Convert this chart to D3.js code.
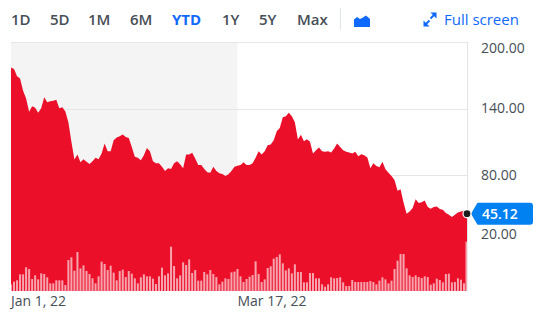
<!DOCTYPE html>
<html>
<head>
<meta charset="utf-8">
<script src="https://cdn.jsdelivr.net/npm/d3@7"></script>
<style>
  html, body { margin: 0; padding: 0; background: #fff; }
  svg { display: block; font-family: "Open Sans", "Noto Sans", sans-serif; }
</style>
</head>
<body>
<svg id="chart" width="537" height="313"></svg>
<script>
// ---------- data ----------
const startDate = "2022-01-01";
const prices = [
  177, 175.6, 169, 167, 156, 149, 137, 142, 140.6, 136.2,
  140.3, 150.1, 145.6, 146.5, 147, 147.8, 140.3, 141.2, 137.3, 127.7,
  110, 94, 98.5, 91.4, 94.1, 91.9, 89.9, 92.5, 95.5, 94.3,
  99.4, 108.4, 101.5, 101.5, 111.3, 113.8, 115, 116.5, 114.3, 113.4,
  105.3, 96.4, 95.5, 93.4, 97.9, 104.4, 101.5, 92.5, 90.5, 90.5,
  87.4, 83.6, 86.0, 85.4, 90.5, 92.5, 89.6, 86.0, 98.5, 98.5,
  100.0, 95.0, 89.0, 89.0, 85.4, 82.4, 82.1, 87.4, 83.6, 81.5,
  80.9, 79.1, 80.6, 83.6, 87.4, 88.3, 89, 91.4, 89.0, 89.0,
  90.5, 95.5, 101.5, 98.5, 101.5, 106.9, 107.5, 111.3, 119.4, 122.4,
  132.2, 133.1, 136.2, 133.1, 127.7, 112, 116.4, 110.4, 112.2, 110,
  99.4, 102.4, 104.8, 101.5, 100.9, 101.5, 100.3, 103.9, 108.4, 105.3,
  102.4, 100.9, 100.3, 99.4, 100.9, 97.0, 98.8, 97.9, 95.9, 86.0,
  90.5, 88.1, 86.9, 91.9, 85.1, 82.1, 79.1, 75.5, 65.7, 67.2,
  55, 45.1, 47.1, 50.2, 58.2, 54.7, 55.5, 57.0, 51.1, 49.6,
  51.1, 51.6, 49.3, 48.7, 45.7, 44.2, 42.1, 44.2, 46.2, 47.1,
  47.8, 45.12
];
const volumes = [
  20, 28, 32, 50, 50, 71, 66, 36, 47, 35,
  53, 51, 41, 23, 23, 32, 32, 32, 18, 93,
  101, 61, 117, 68, 77, 60, 51, 38, 23, 44,
  88, 81, 63, 76, 55, 32, 60, 64, 42, 60,
  52, 38, 23, 41, 50, 44, 44, 37, 21, 44,
  70, 47, 53, 133, 75, 38, 47, 86, 78, 95,
  54, 63, 31, 31, 57, 50, 63, 51, 42, 20,
  28, 38, 36, 56, 58, 66, 44, 27, 36, 43,
  48, 89, 51, 27, 35, 69, 74, 97, 102, 110,
  83, 62, 68, 53, 80, 57, 57, 26, 26, 54,
  54, 38, 38, 20, 13, 20, 41, 38, 39, 41,
  26, 15, 15, 33, 27, 27, 27, 27, 27, 30,
  27, 20, 31, 41, 35, 23, 31, 66, 91, 111,
  111, 68, 47, 42, 47, 42, 39, 44, 42, 19,
  23, 37, 33, 26, 51, 52, 26, 27, 38, 34,
  23, 148
];
const yTicks = [200, 140, 80, 20];
const xTickDates = ["2022-01-01", "2022-03-17"];
const xTickLabels = ["Jan 1, 22", "Mar 17, 22"];
const shadeEnd = "2022-03-17";
const ranges = ["1D", "5D", "1M", "6M", "YTD", "1Y", "5Y", "Max"];
const activeRange = "YTD";
const lastPrice = 45.12;

// ---------- setup ----------
const parse = d3.timeParse("%Y-%m-%d");
const t0 = parse(startDate);
const data = prices.map((p, i) => ({ date: d3.timeDay.offset(t0, i), price: p, volume: volumes[i] }));

const W = 537, H = 313;
const plot = { left: 11, right: 467, top: 42, bottom: 291 };
const RED = "#eb0f29", BLUE = "#0f69ff", TXT = "#464e56";

const svg = d3.select("#chart");

const x = d3.scaleTime()
  .domain(d3.extent(data, d => d.date))
  .range([plot.left, plot.right]);
const y = d3.scaleLinear()
  .domain([20, 200])
  .range([241.5, plot.top]);
const yv = d3.scaleLinear()
  .domain([0, 150])
  .range([plot.bottom, plot.bottom - 50]);

// ---------- toolbar ----------
const rangeX = [11, 50, 88, 130, 172, 222, 259, 297];
const tb = svg.append("g");
tb.selectAll("text").data(ranges).join("text")
  .attr("x", (d, i) => rangeX[i])
  .attr("y", 25)
  .attr("font-size", 15)
  .attr("font-weight", d => d === activeRange ? 700 : 600)
  .attr("fill", d => d === activeRange ? BLUE : TXT)
  .text(d => d);
tb.append("line").attr("x1", 340.5).attr("x2", 340.5).attr("y1", 8).attr("y2", 30)
  .attr("stroke", "#e0e4e9");
// area chart icon
tb.append("path")
  .attr("d", "M354,27 L354,19.5 L357,17 L360,19 L363,17.5 L366,15.5 L370,19 L370,27 Z")
  .attr("fill", BLUE);
// full screen icon
const fs = tb.append("g").attr("fill", BLUE).attr("stroke", BLUE);
fs.append("line").attr("x1", 425).attr("y1", 25).attr("x2", 429.5).attr("y2", 20.5).attr("stroke-width", 1.8);
fs.append("path").attr("d", "M423.5,26.5 L423.5,20.5 L429.5,26.5 Z").attr("stroke", "none");
fs.append("line").attr("x1", 435).attr("y1", 14).attr("x2", 430.5).attr("y2", 18.5).attr("stroke-width", 1.8);
fs.append("path").attr("d", "M436.5,12.5 L436.5,18.5 L430.5,12.5 Z").attr("stroke", "none");
tb.append("text").attr("x", 444).attr("y", 25).attr("font-size", 15)
  .attr("fill", BLUE).text("Full screen");

// ---------- plot background ----------
svg.append("rect")
  .attr("x", plot.left).attr("y", plot.top)
  .attr("width", x(parse(shadeEnd)) - plot.left)
  .attr("height", plot.bottom - plot.top)
  .attr("fill", "#f4f4f4");

// gridlines
svg.append("g").selectAll("line").data(yTicks).join("line")
  .attr("x1", plot.left).attr("x2", plot.right)
  .attr("y1", d => Math.round(y(d)) + 0.5).attr("y2", d => Math.round(y(d)) + 0.5)
  .attr("stroke", "#e6e6e6");
svg.append("line")
  .attr("x1", plot.right + 0.5).attr("x2", plot.right + 0.5)
  .attr("y1", plot.top).attr("y2", plot.bottom)
  .attr("stroke", "#e3e3e3");

// area
const area = d3.area()
  .x(d => x(d.date))
  .y0(plot.bottom)
  .y1(d => y(d.price));
svg.append("path").datum(data).attr("d", area).attr("fill", RED);

// volume bars
svg.append("g").selectAll("rect").data(data).join("rect")
  .attr("x", d => Math.min(x(d.date) - 1, plot.right - 1.5))
  .attr("width", 2)
  .attr("y", d => yv(d.volume))
  .attr("height", d => plot.bottom - yv(d.volume))
  .attr("fill", "rgba(255,255,255,0.62)");

// y labels
svg.append("g").selectAll("text").data(yTicks).join("text")
  .attr("x", 481)
  .attr("y", d => Math.max(48, Math.min(234, y(d))))
  .attr("dy", "0.35em")
  .attr("font-size", 14)
  .attr("fill", TXT)
  .text(d => d3.format(".2f")(d));

// x labels
svg.append("g").selectAll("text").data(xTickDates).join("text")
  .attr("x", d => x(parse(d)))
  .attr("y", 306)
  .attr("font-size", 14)
  .attr("fill", TXT)
  .text((d, i) => xTickLabels[i]);

// last price marker + label
const ly = y(lastPrice);
svg.append("path")
  .attr("d", `M471,${ly} L477.5,${ly - 11} L530,${ly - 11} Q533,${ly - 11} 533,${ly - 8} L533,${ly + 8} Q533,${ly + 11} 530,${ly + 11} L477.5,${ly + 11} Z`)
  .attr("fill", "#0081f2");
svg.append("text").attr("x", 482).attr("y", ly).attr("dy", "0.36em")
  .attr("font-size", 14).attr("font-weight", 600).attr("fill", "#fff")
  .text(d3.format(".2f")(lastPrice));
svg.append("circle").attr("cx", x(data[data.length - 1].date)).attr("cy", ly).attr("r", 4)
  .attr("fill", "#1d1d1d").attr("stroke", "#fff").attr("stroke-width", 1.2);
</script>
</body>
</html>
